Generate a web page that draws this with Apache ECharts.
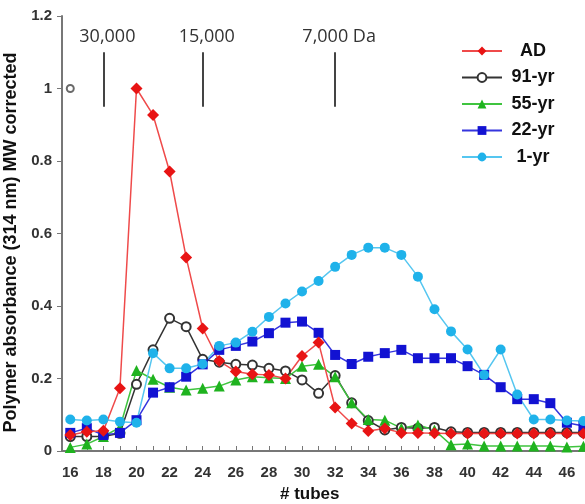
<!DOCTYPE html>
<html>
<head>
<meta charset="utf-8">
<script src="https://cdn.jsdelivr.net/npm/echarts@6.0.0/dist/echarts.min.js"></script>
<style>
  html, body { margin: 0; padding: 0; background: #fff; }
  #chart { width: 585px; height: 504px; }
</style>
</head>
<body>
<div id="chart"></div>
<script>
// tube numbers 16..47
const tubes = [16,17,18,19,20,21,22,23,24,25,26,27,28,29,30,31,32,33,34,35,36,37,38,39,40,41,42,43,44,45,46,47];

const adValues   = [0.044,0.053,0.056,0.173,1.0,0.927,0.771,0.534,0.338,0.248,0.219,0.212,0.21,0.20,0.262,0.299,0.12,0.076,0.055,0.062,0.05,0.05,0.049,0.048,0.048,0.048,0.048,0.048,0.048,0.048,0.048,0.048];
const yr91Values = [0.04,0.04,0.04,0.049,0.184,0.279,0.366,0.343,0.253,0.245,0.239,0.237,0.228,0.221,0.196,0.159,0.208,0.133,0.084,0.058,0.065,0.063,0.065,0.053,0.051,0.051,0.051,0.051,0.051,0.051,0.051,0.051];
const yr55Values = [0.01,0.019,0.04,0.065,0.222,0.198,0.176,0.168,0.173,0.179,0.196,0.205,0.202,0.2,0.234,0.239,0.205,0.133,0.087,0.085,0.063,0.072,0.058,0.017,0.019,0.014,0.014,0.014,0.014,0.014,0.011,0.013];
const yr22Values = [0.05,0.063,0.044,0.05,0.085,0.161,0.176,0.205,0.239,0.279,0.29,0.302,0.325,0.354,0.357,0.326,0.265,0.24,0.26,0.27,0.279,0.256,0.256,0.256,0.234,0.21,0.176,0.143,0.143,0.132,0.078,0.069];
const yr1Values  = [0.087,0.084,0.087,0.081,0.078,0.27,0.228,0.228,0.24,0.29,0.299,0.329,0.37,0.407,0.44,0.469,0.508,0.541,0.561,0.561,0.541,0.481,0.391,0.33,0.28,0.21,0.28,0.156,0.087,0.087,0.084,0.083];

const strayPoint = [[16, 1.0]];

// molecular weight markers
const mwTubes  = [18, 24, 32];
const mwLabels = ['30,000', '15,000', '7,000 Da'];
const mwRange  = [0.95, 1.10];

const xLabelValues = [16,18,20,22,24,26,28,30,32,34,36,38,40,42,44,46];

function pairs(vals) {
  return tubes.map(function (t, i) { return [t, vals[i]]; });
}

const chart = echarts.init(document.getElementById('chart'), null, { renderer: 'canvas' });

const FONT = 'Arial, "Liberation Sans", sans-serif';
const lbl = { fontFamily: FONT, fontWeight: 'bold', color: '#333' };

function lineSeries(name, vals, symbol, size, markColor, lineColor, extra) {
  return Object.assign({
    name: name,
    type: 'line',
    data: pairs(vals),
    symbol: symbol,
    symbolSize: size,
    showAllSymbol: true,
    itemStyle: { color: markColor },
    lineStyle: { color: lineColor, width: 1.5 },
    emphasis: { disabled: true },
    animation: false
  }, extra || {});
}

chart.setOption({
  backgroundColor: '#fff',
  animation: false,
  grid: { left: 62, top: 16, width: 538, height: 435, outerBoundsMode: 'none', containLabel: false },
  legend: {
    orient: 'vertical',
    left: 456,
    top: 37,
    itemWidth: 40,
    itemHeight: 11,
    itemGap: 8.5,
    data: ['AD', '91-yr', '55-yr', '22-yr', '1-yr'],
    formatter: function (n) { return '{c|' + n + '}'; },
    textStyle: {
      rich: { c: { width: 52, align: 'center', fontSize: 18, fontWeight: 'bold', fontFamily: FONT, color: '#111', lineHeight: 20 } }
    }
  },
  xAxis: {
    type: 'value',
    min: 15.5,
    max: 48,
    splitLine: { show: false },
    axisLine: { lineStyle: { color: '#777', width: 2 } },
    axisTick: { inside: true, length: 5, lineStyle: { color: '#777', width: 1 }, customValues: tubes },
    axisLabel: Object.assign({ fontSize: 15, margin: 14, customValues: xLabelValues }, lbl)
  },
  yAxis: {
    type: 'value',
    min: 0,
    max: 1.2,
    interval: 0.2,
    splitLine: { show: false },
    axisLine: { show: true, lineStyle: { color: '#777', width: 2 } },
    axisTick: { show: true, length: 5, lineStyle: { color: '#777', width: 1 } },
    axisLabel: Object.assign({ fontSize: 15, margin: 10 }, lbl),
    name: 'Polymer absorbance (314 nm) MW corrected',
    nameLocation: 'middle',
    nameGap: 36,
    nameTextStyle: { fontSize: 18, fontWeight: 'bold', fontFamily: FONT, color: '#111', padding: [0, 18, 0, 0] }
  },
  graphic: [
    { type: 'text', left: 280, top: 486, style: { text: '# tubes', fontSize: 17, fontWeight: 'bold', fontFamily: FONT, fill: '#111' } }
  ],
  series: [
    {
      name: 'mw',
      type: 'scatter',
      data: strayPoint,
      symbol: 'emptyCircle',
      symbolSize: 7,
      itemStyle: { color: '#444', borderWidth: 1 },
      silent: true,
      markLine: {
        silent: true,
        symbol: ['none', 'none'],
        lineStyle: { color: '#444', width: 2, type: 'solid' },
        label: {
          show: true,
          position: 'end',
          distance: 6,
          padding: [0, 0, 0, 8],
          fontSize: 18,
          fontFamily: '"Open Sans", sans-serif',
          color: '#333',
          formatter: function (p) { return p.name; }
        },
        data: mwTubes.map(function (t, i) {
          return [{ name: mwLabels[i], coord: [t, mwRange[0]] }, { coord: [t, mwRange[1]] }];
        })
      }
    },
    lineSeries('91-yr', yr91Values, 'emptyCircle', 9, '#333', '#333', { itemStyle: { color: '#333', borderWidth: 1 } }),
    lineSeries('55-yr', yr55Values, 'triangle', 11, '#1fb31f', '#3fc43f'),
    lineSeries('22-yr', yr22Values, 'rect', 10, '#1212d2', '#3535de'),
    lineSeries('1-yr', yr1Values, 'circle', 10, '#1fb2ea', '#55c6f0'),
    lineSeries('AD', adValues, 'diamond', 12, '#e81414', '#ef4a4a')
  ]
});
</script>
</body>
</html>
